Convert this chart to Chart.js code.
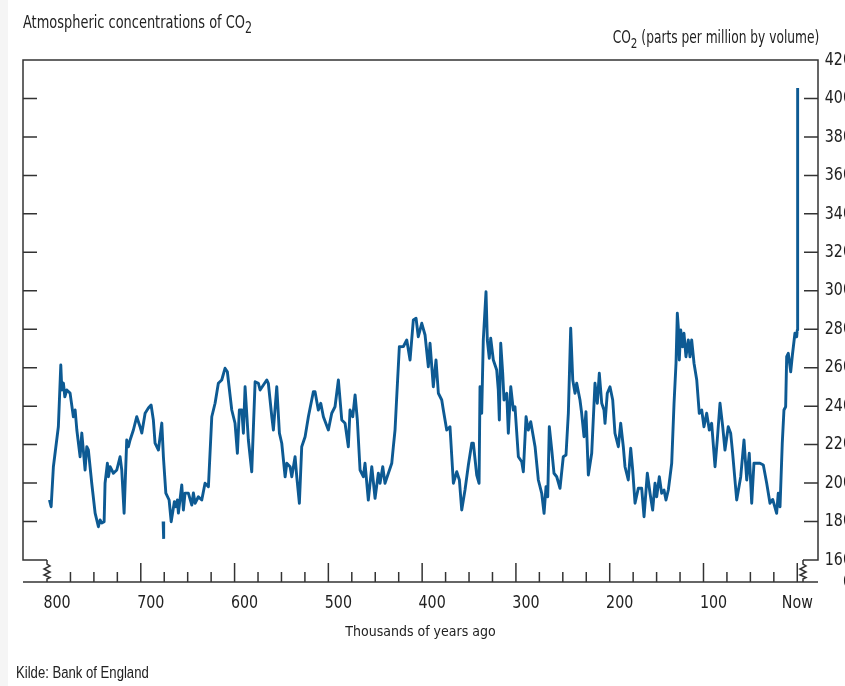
<!DOCTYPE html>
<html>
<head>
<meta charset="utf-8">
<title>Atmospheric concentrations of CO2</title>
<script src="https://cdn.jsdelivr.net/npm/chart.js@4/dist/chart.umd.min.js"></script>
<style>
    html, body { margin: 0; padding: 0; background: #fff; }
    #wrap { position: relative; width: 845px; height: 686px; overflow: hidden; }
    #edge { position: absolute; left: 0; top: 0; width: 8px; height: 686px; background: #f5f5f5; }
    canvas { position: absolute; left: 0; top: 0; }
    .txt { position: absolute; white-space: nowrap; color: #222;
           font-family: 'DejaVu Sans Condensed', 'DejaVu Sans', sans-serif; }
    .txt sub { font-size: 85%; vertical-align: -0.35em; line-height: 0; }
    #title { left: 23px; top: 12px; font-size: 18px; line-height: 20px;
             transform: scaleX(0.8); transform-origin: left top; }
    #unit { right: 26px; top: 27px; font-size: 17px; line-height: 20px;
            transform: scaleX(0.8); transform-origin: right top; }
    #source { left: 16px; top: 664px; font-size: 16px; line-height: 18px;
              font-family: 'Liberation Sans', Arial, sans-serif;
              transform: scaleX(0.82); transform-origin: left top; }
</style>
</head>
<body>
<div id="wrap">
    <div id="edge"></div>
    <canvas id="co2Chart" width="845" height="686"></canvas>
    <div class="txt" id="title">Atmospheric concentrations of CO<sub>2</sub></div>
    <div class="txt" id="unit">CO<sub>2</sub> (parts per million by volume)</div>
    <div class="txt" id="source">Kilde: Bank of England</div>
</div>
<script>
// 年代（千年前）とCO2濃度（ppm）
const years = [
    797.4, 795.6, 793.2, 787.9, 785.3, 784.2, 782.5, 781.0, 778.9, 775.4,
    771.9, 770.0, 768.2, 764.7, 762.9, 759.4, 757.6, 755.9, 752.3, 748.7,
    745.2, 743.4, 741.6, 739.1, 738.1, 735.6, 734.5, 732.7, 729.2, 725.6,
    722.1, 720.3, 717.8, 715.0, 713.2, 711.4, 707.9, 704.3, 700.8, 698.9,
    695.4, 691.9, 689.0, 686.6, 684.8, 681.2, 677.6, 675.9, 673.3, 669.8,
    667.6, 664.2, 662.7, 661.0, 659.9, 656.3, 654.6, 652.8, 649.3, 645.6,
    643.9, 642.1, 638.6, 635.0, 631.5, 627.9, 624.3, 620.8, 617.3, 613.7,
    610.2, 607.7, 603.0, 599.5, 597.0, 594.9, 592.3, 590.6, 588.8, 585.3,
    581.7, 578.1, 574.6, 572.8, 565.7, 564.0, 560.3, 558.6, 555.0, 552.2,
    549.7, 546.1, 544.3, 540.8, 539.0, 535.5, 533.7, 530.9, 528.4, 524.8,
    521.3, 516.0, 514.2, 510.7, 508.1, 505.3, 500.0, 496.4, 492.9, 489.3,
    485.7, 482.2, 478.7, 476.9, 474.0, 471.5, 469.1, 466.2, 462.7, 460.9,
    457.4, 453.7, 450.2, 446.7, 444.9, 442.0, 439.6, 432.4, 430.7, 428.9,
    427.1, 424.3, 420.0, 416.4, 412.9, 409.4, 406.5, 404.1, 400.4, 396.9,
    393.4, 391.6, 388.1, 385.2, 382.7, 379.1, 377.4, 373.8, 370.3, 366.7,
    363.1, 360.3, 357.8, 354.3, 350.7, 347.1, 345.4, 341.8, 339.3, 338.3,
    336.5, 334.8, 331.9, 330.5, 328.4, 326.9, 324.1, 320.5, 318.8, 317.7,
    316.2, 314.1, 312.7, 309.8, 308.1, 305.5, 302.8, 301.0, 297.4, 293.8,
    292.1, 289.2, 286.8, 284.2, 279.6, 276.1, 272.5, 270.0, 267.9, 266.1,
    264.4, 261.8, 259.4, 256.5, 253.0, 249.5, 246.6, 244.1, 241.6, 239.4,
    237.0, 235.2, 231.7, 229.9, 227.4, 225.3, 222.8, 219.2, 215.7, 213.2,
    211.1, 208.5, 206.1, 205.0, 202.6, 199.7, 196.8, 194.4, 190.8, 188.3,
    185.5, 183.7, 180.2, 177.6, 175.5, 173.0, 169.5, 165.9, 163.4, 159.9,
    157.0, 154.2, 151.7, 149.9, 147.1, 144.6, 142.1, 140.0, 137.5, 135.7,
    133.9, 131.4, 129.3, 127.9, 126.9, 125.8, 124.3, 122.2, 120.8, 118.7,
    116.2, 114.4, 112.6, 110.1, 107.2, 104.5, 101.9, 99.5, 96.6, 93.8,
    91.3, 87.7, 85.3, 82.4, 79.5, 77.1, 73.6, 71.0, 68.9, 64.6,
    60.3, 56.8, 53.9, 51.2, 48.6, 46.2, 43.3, 39.8, 36.2, 32.6,
    29.1, 26.2, 22.0, 20.3, 18.4, 16.0, 14.2, 12.4, 11.3, 9.6,
    7.0, 5.2, 2.5, 0.6, 0.0, -0.4
];
const co2 = [
    191.2, 187.7, 208.5, 229.3, 261.4, 248.4, 252.0, 244.9, 248.4, 246.8,
    234.5, 238.0, 227.6, 213.7, 226.0, 206.8, 218.9, 217.2, 199.9, 184.4,
    177.3, 180.8, 179.2, 179.9, 200.0, 210.3, 203.3, 208.5, 205.1, 206.8,
    213.7, 206.8, 184.3, 222.4, 218.9, 222.4, 227.6, 234.5, 229.3, 226.0,
    236.3, 239.0, 240.6, 232.8, 220.8, 217.2, 231.2, 213.7, 194.8, 191.2,
    179.9, 190.3, 187.7, 191.2, 184.4, 199.0, 186.0, 194.8, 194.8, 188.6,
    194.9, 189.5, 192.9, 191.2, 199.9, 198.1, 234.5, 241.5, 251.9, 253.6,
    259.7, 257.9, 238.0, 231.1, 215.5, 238.0, 238.0, 225.9, 250.1, 222.4,
    205.9, 252.7, 251.9, 248.4, 253.6, 251.9, 234.5, 227.6, 250.1, 226.0,
    220.7, 203.3, 210.3, 208.5, 203.3, 213.7, 203.3, 189.5, 218.9, 224.1,
    234.5, 247.5, 247.5, 238.0, 241.5, 234.5, 227.6, 236.3, 239.7, 253.6,
    232.8, 231.1, 218.9, 238.0, 234.5, 245.8, 232.8, 206.8, 203.3, 210.3,
    191.2, 208.5, 192.1, 205.1, 199.9, 208.5, 199.9, 210.3, 218.9, 227.6,
    244.9, 270.9, 271.0, 274.4, 264.0, 284.8, 285.7, 276.1, 283.1, 277.0,
    260.5, 272.7, 250.1, 264.0, 246.7, 243.2, 238.0, 227.6, 229.3, 199.9,
    205.9, 201.6, 186.0, 196.4, 209.4, 220.7, 220.7, 204.2, 199.9, 250.1,
    236.3, 274.4, 299.5, 274.4, 264.9, 275.3, 264.0, 258.8, 248.4, 232.8,
    272.7, 257.1, 243.2, 246.7, 225.9, 250.1, 238.0, 239.7, 213.7, 211.1,
    205.9, 234.5, 227.6, 231.9, 218.9, 201.6, 194.7, 184.3, 198.1, 192.9,
    229.3, 217.2, 205.1, 203.3, 197.3, 213.7, 214.6, 236.3, 280.5, 253.6,
    246.7, 251.9, 243.2, 236.3, 224.1, 237.1, 204.2, 215.5, 251.9, 241.5,
    257.1, 241.5, 238.0, 231.1, 246.7, 250.1, 243.2, 225.9, 218.9, 231.1,
    218.9, 208.5, 201.6, 218.1, 206.8, 189.5, 197.3, 197.3, 182.5, 205.1,
    194.7, 186.0, 199.9, 192.9, 203.3, 194.7, 196.4, 191.2, 196.4, 203.3,
    210.3, 241.5, 262.3, 288.3, 281.3, 264.0, 279.6, 270.9, 277.9, 265.7,
    274.4, 265.7, 274.4, 262.3, 253.6, 236.3, 238.0, 229.3, 236.3, 227.6,
    231.1, 208.5, 222.4, 241.5, 229.3, 217.2, 229.3, 225.9, 215.5, 191.2,
    203.3, 222.4, 201.6, 215.5, 189.5, 210.3, 210.3, 210.3, 209.4, 199.9,
    189.5, 191.5, 184.3, 194.7, 187.7, 220.7, 238.0, 239.7, 265.7, 267.5,
    257.9, 266.6, 277.9, 276.1, 279.6, 405.5
];
// 途切れた短い区間（約67.6万年前）
const fragmentYears = [676.2, 675.6];
const fragmentCo2 = [180.0, 171.0];

// 軸の目盛り
const yTicks = [180, 200, 220, 240, 260, 280, 300, 320, 340, 360, 380, 400];
const yLabels = [0, 160, 180, 200, 220, 240, 260, 280, 300, 320, 340, 360, 380, 400, 420];
const xLabelYears = [800, 700, 600, 500, 400, 300, 200, 100, 0];

// 軸の範囲と切れ目
const X_MIN = -22.1;
const X_MAX = 825.6;
const Y_BREAK = 160;
const Y_MIN = 148.56;
const Y_MAX = 420;
const LEFT_BREAK = 800;
const RIGHT_BREAK = -6.1;

const AXIS_COLOR = '#333';
const TEXT_COLOR = '#222';
const LINE_COLOR = '#0d5a93';
const FONT = "'DejaVu Sans Condensed', 'DejaVu Sans', sans-serif";

const mainPoints = years.map((y, i) => ({ x: y, y: co2[i] }));
const fragmentPoints = fragmentYears.map((y, i) => ({ x: y, y: fragmentCo2[i] }));

// 波線（軸の省略記号）
function drawBreak(ctx, x, yTop, yBottom) {
    ctx.beginPath();
    ctx.moveTo(x, yTop);
    ctx.lineTo(x, yTop + 4);
    ctx.lineTo(x + 3, yTop + 6);
    ctx.lineTo(x - 3, yTop + 9);
    ctx.lineTo(x + 3, yTop + 12);
    ctx.lineTo(x - 3, yTop + 15);
    ctx.lineTo(x + 3, yTop + 17.5);
    ctx.lineTo(x, yTop + 19);
    ctx.lineTo(x, yBottom);
    ctx.stroke();
}

// 少し細長い文字を描く
function drawNarrowText(ctx, text, x, y) {
    ctx.save();
    ctx.translate(x, y);
    ctx.scale(0.88, 1);
    ctx.fillText(text, 0, 0);
    ctx.restore();
}

// 枠・目盛り・軸ラベルを描くプラグイン
const framePlugin = {
    id: 'frame',
    afterDraw(chart) {
        const ctx = chart.ctx;
        const xs = chart.scales.x;
        const ys = chart.scales.y;
        const area = chart.chartArea;
        const yBase = ys.getPixelForValue(Y_BREAK);
        const xl = xs.getPixelForValue(LEFT_BREAK);
        const xr = xs.getPixelForValue(RIGHT_BREAK);

        ctx.save();
        ctx.strokeStyle = AXIS_COLOR;
        ctx.lineWidth = 1.5;

        // 外枠
        ctx.beginPath();
        ctx.moveTo(xl, yBase);
        ctx.lineTo(area.left, yBase);
        ctx.lineTo(area.left, area.top);
        ctx.lineTo(area.right, area.top);
        ctx.lineTo(area.right, yBase);
        ctx.lineTo(xr, yBase);
        ctx.stroke();

        drawBreak(ctx, xl, yBase, area.bottom);
        drawBreak(ctx, xr, yBase, area.bottom);

        // X軸
        ctx.beginPath();
        ctx.moveTo(area.left, area.bottom);
        ctx.lineTo(area.right, area.bottom);
        ctx.stroke();

        // X軸の目盛り（25千年ごと）
        for (let v = 775; v >= 0; v -= 25) {
            const px = xs.getPixelForValue(v);
            const len = v % 100 === 0 ? 19 : 10;
            ctx.beginPath();
            ctx.moveTo(px, area.bottom);
            ctx.lineTo(px, area.bottom - len);
            ctx.stroke();
        }

        // Y軸の目盛り（左右とも内向き）
        yTicks.forEach(v => {
            const py = ys.getPixelForValue(v);
            ctx.beginPath();
            ctx.moveTo(area.left, py);
            ctx.lineTo(area.left + 14, py);
            ctx.moveTo(area.right, py);
            ctx.lineTo(area.right - 14, py);
            ctx.stroke();
        });

        ctx.fillStyle = TEXT_COLOR;
        ctx.font = '18px ' + FONT;
        ctx.textBaseline = 'middle';

        // X軸ラベル
        ctx.textAlign = 'center';
        xLabelYears.forEach(v => {
            const px = xs.getPixelForValue(v);
            if (v === 0) {
                drawNarrowText(ctx, 'Now', px, area.bottom + 21);
            } else {
                drawNarrowText(ctx, String(v), px + 10, area.bottom + 21);
            }
        });

        // 右Y軸ラベル（右揃え、画面外にはみ出す）
        ctx.textAlign = 'right';
        yLabels.forEach(v => {
            const py = v === 0 ? area.bottom : ys.getPixelForValue(v);
            drawNarrowText(ctx, String(v), area.right + 34, py);
        });
        ctx.restore();
    }
};

const ctx = document.getElementById('co2Chart').getContext('2d');
const co2Chart = new Chart(ctx, {
    type: 'line',
    data: {
        datasets: [
            {
                data: mainPoints,
                borderColor: LINE_COLOR,
                borderWidth: 2.9,
                borderJoinStyle: 'round',
                pointRadius: 0,
                tension: 0,
                fill: false
            },
            {
                data: fragmentPoints,
                borderColor: LINE_COLOR,
                borderWidth: 2.9,
                pointRadius: 0,
                tension: 0,
                fill: false
            }
        ]
    },
    options: {
        responsive: false,
        animation: false,
        layout: { padding: { left: 23, top: 60, right: 0, bottom: 0 } },
        plugins: {
            legend: { display: false },
            tooltip: { enabled: false }
        },
        scales: {
            x: {
                type: 'linear',
                reverse: true,
                min: X_MIN,
                max: X_MAX,
                grid: { display: false, drawTicks: false },
                border: { display: false },
                ticks: { display: false },
                title: {
                    display: true,
                    text: 'Thousands of years ago',
                    color: TEXT_COLOR,
                    font: { family: FONT, size: 14 },
                    padding: { top: 0, bottom: 45 }
                },
                afterFit: function(scale) {
                    scale.height = 104;
                }
            },
            y: {
                position: 'right',
                min: Y_MIN,
                max: Y_MAX,
                grid: { display: false, drawTicks: false },
                border: { display: false },
                ticks: { display: false },
                afterFit: function(scale) {
                    scale.width = 27;
                }
            }
        }
    },
    plugins: [framePlugin]
});
</script>
</body>
</html>
